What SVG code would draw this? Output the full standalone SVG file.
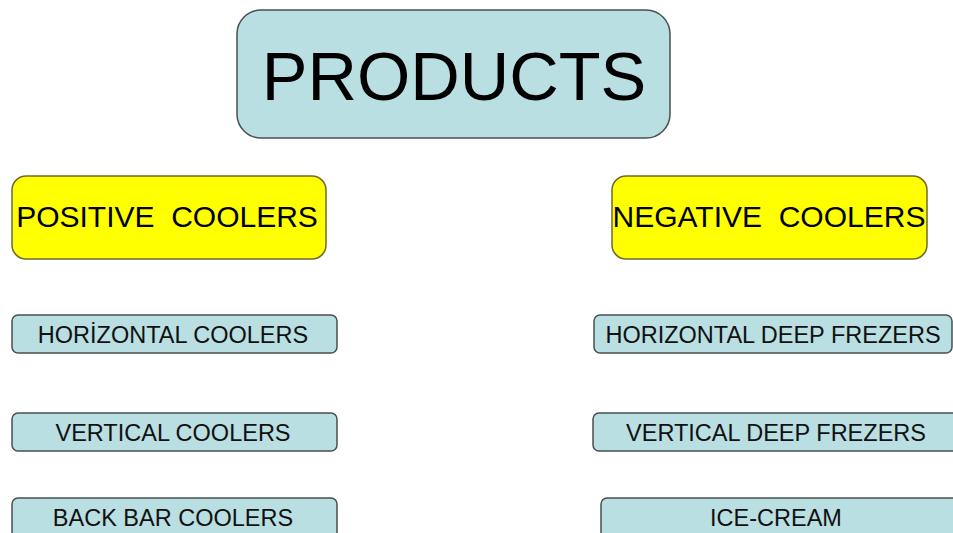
<svg xmlns="http://www.w3.org/2000/svg" width="953" height="533" viewBox="0 0 953 533">
  <style>
    text { font-family: "Liberation Sans", Arial, sans-serif; fill: #000; text-anchor: middle; }
    .blue { fill: #B9DFE3; stroke: #4A4F50; stroke-width: 1.5; }
    .yellow { fill: #FFFF00; stroke: #6E6A30; stroke-width: 1.5; }
    .title { font-size: 68.5px; }
    .group { font-size: 30px; white-space: pre; }
    .item { font-size: 23.5px; fill: #111; }
  </style>
  <rect width="953" height="533" fill="#FFFFFF"/>

  <g id="products">
    <rect class="blue" x="237" y="10" width="433" height="128" rx="24"/>
    <text class="title" x="454" y="100">PRODUCTS</text>
  </g>

  <g id="positive-coolers">
    <rect class="yellow" x="12" y="176" width="314" height="83" rx="14"/>
    <text class="group" x="167" y="227" xml:space="preserve">POSITIVE  COOLERS</text>
  </g>

  <g id="negative-coolers">
    <rect class="yellow" x="612" y="176" width="315" height="83" rx="14"/>
    <text class="group" x="769" y="227" xml:space="preserve">NEGATIVE  COOLERS</text>
  </g>

  <g id="horizontal-coolers">
    <rect class="blue" x="12" y="315" width="325" height="38" rx="6"/>
    <text class="item" x="173" y="343">HORİZONTAL COOLERS</text>
  </g>

  <g id="vertical-coolers">
    <rect class="blue" x="12" y="413" width="325" height="38" rx="6"/>
    <text class="item" x="173" y="441">VERTICAL COOLERS</text>
  </g>

  <g id="back-bar-coolers">
    <rect class="blue" x="12" y="498" width="325" height="50" rx="6"/>
    <text class="item" x="173" y="526">BACK BAR COOLERS</text>
  </g>

  <g id="horizontal-deep-freezers">
    <rect class="blue" x="594" y="315" width="358" height="38" rx="6"/>
    <text class="item" x="773" y="343">HORIZONTAL DEEP FREZERS</text>
  </g>

  <g id="vertical-deep-freezers">
    <rect class="blue" x="593" y="413" width="370" height="38" rx="6"/>
    <text class="item" x="776" y="441">VERTICAL DEEP FREZERS</text>
  </g>

  <g id="ice-cream">
    <rect class="blue" x="601" y="498" width="362" height="50" rx="6"/>
    <text class="item" x="776" y="526">ICE-CREAM</text>
  </g>

  <g id="connectors"></g>
</svg>
